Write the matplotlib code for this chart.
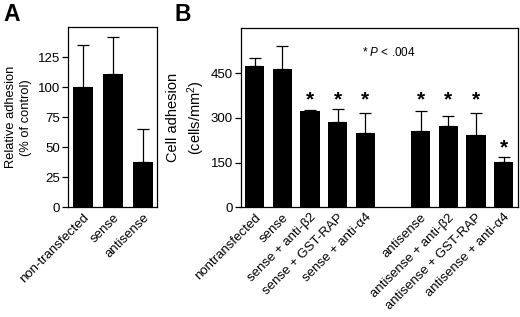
import numpy as np
import matplotlib
matplotlib.use("Agg")
import matplotlib.pyplot as plt

plt.rcParams['font.family'] = ['Liberation Sans', 'DejaVu Sans']
plt.rcParams['mathtext.fontset'] = 'custom'
plt.rcParams['mathtext.rm'] = 'Liberation Sans'
plt.rcParams['mathtext.it'] = 'Liberation Sans:italic'

# Panel A data
a_labels = ["non-transfected", "sense", "antisense"]
a_values = [100, 111, 38]
a_err = [35, 31, 27]
a_yticks = [0, 25, 50, 75, 100, 125]

# Panel B data
b_labels = ["nontransfected", "sense", "sense + anti-β2", "sense + GST-RAP",
            "sense + anti-α4", "antisense", "antisense + anti-β2",
            "antisense + GST-RAP", "antisense + anti-α4"]
b_values = [474, 464, 322, 287, 249, 256, 271, 242, 153]
b_err = [26, 77, 5, 44, 66, 66, 36, 74, 16]
b_sig = [False, False, True, True, True, True, True, True, True]
b_yticks = [0, 150, 300, 450]

fig = plt.figure(figsize=(5.2, 3.17), dpi=100)
W, H = 520, 317

def add_axes(l, r, t, b):
    return fig.add_axes([l / W, 1 - b / H, (r - l) / W, (b - t) / H])

axA = add_axes(67.7, 157.3, 27.3, 207.3)
axB = add_axes(240.7, 518.3, 28.3, 207.3)

for ax in (axA, axB):
    for s in ax.spines.values():
        s.set_linewidth(0.9)
    ax.tick_params(axis='y', direction='out', length=4, width=0.9, pad=1.5, labelsize=9.5)
    ax.tick_params(axis='x', length=0, pad=3, labelsize=9.5)

# Panel A
xa = np.arange(len(a_values))
axA.bar(xa, a_values, width=0.67, color='black')
axA.errorbar(xa, a_values, yerr=[np.zeros(len(a_err)), a_err], fmt='none',
             ecolor='black', elinewidth=0.9, capsize=4.6, capthick=0.9)
axA.set_xlim(-0.51, 2.48)
axA.set_ylim(0, 150)
axA.set_yticks(a_yticks)
axA.set_xticks(xa)
axA.set_xticklabels(a_labels, rotation=45, ha='right', va='top', rotation_mode='anchor')
axA.set_ylabel("Relative adhesion\n(% of control)", fontsize=9.3, labelpad=4, linespacing=1.4)

# Panel B
xb = np.r_[np.arange(5), np.arange(6, 10)]
axB.bar(xb, b_values, width=0.70, color='black')
axB.errorbar(xb, b_values, yerr=[np.zeros(len(b_err)), b_err], fmt='none',
             ecolor='black', elinewidth=0.9, capsize=4, capthick=0.9)
axB.set_xlim(-0.51, 9.53)
axB.set_ylim(0, 600)
axB.set_yticks(b_yticks)
axB.set_xticks(xb)
axB.set_xticklabels(b_labels, rotation=45, ha='right', va='top', rotation_mode='anchor')
axB.set_ylabel("Cell adhesion\n(cells/mm$^2$)", fontsize=10.5, labelpad=3, linespacing=1.35)

tops = np.array(b_values) + np.array(b_err)
level = tops[2:8].max() + 29
for i, (x, sig) in enumerate(zip(xb, b_sig)):
    if not sig:
        continue
    y = level if i < len(xb) - 1 else tops[i] + 29
    axB.text(x, y, "*", ha='center', va='center', fontsize=15, fontweight='bold')

axB.text(3.88, 520, r"* $\it{P}$ < .004", ha='left', va='center', fontsize=8.5)

fig.text(3 / W, 1 - 3 / H, "A", fontsize=16.5, fontweight='bold', ha='left', va='top')
fig.text(175 / W, 1 - 3 / H, "B", fontsize=16.5, fontweight='bold', ha='left', va='top')

fig.savefig("out.png", dpi=100)
